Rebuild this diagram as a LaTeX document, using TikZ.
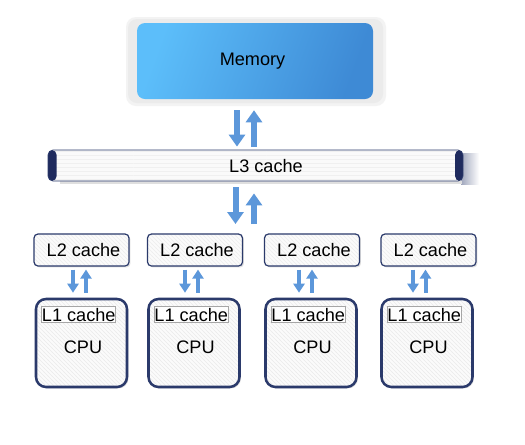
\documentclass[tikz,border=0pt]{standalone}
\usepackage{fontspec}
\setmainfont{Liberation Sans}
\usetikzlibrary{arrows.meta,patterns,shadows,calc}
\definecolor{navy}{HTML}{2B3A6B}
\definecolor{bandnavy}{HTML}{1F2B5E}
\definecolor{arrowblue}{HTML}{5C97DA}
\definecolor{memlight}{HTML}{5CBEFA}
\definecolor{memdark}{HTML}{3E8AD5}
\definecolor{halo}{HTML}{EBEBEB}
\tikzset{
  lbl/.style={font=\fontsize{13.6}{15}\selectfont, text=black},
  memorybox/.style={lbl, rounded corners=6pt, minimum width=177pt,
    minimum height=57pt, inner sep=0pt,
    left color=memlight, right color=memdark, shading angle=70},
  busbar/.style={draw=navy, line width=0.6pt, rounded corners=3.75pt,
    minimum width=311.25pt, minimum height=23.25pt, inner sep=0pt,
    preaction={fill=gray!4}, pattern=horizontal lines, pattern color=gray!12},
  l2box/.style={lbl, draw=navy, line width=0.9pt, rounded corners=3pt,
    minimum width=71.25pt, minimum height=24pt, inner sep=0pt,
    drop shadow={shadow xshift=1.1pt, shadow yshift=-1.1pt, opacity=0.25},
    preaction={fill=gray!3}, pattern=north west lines, pattern color=gray!14},
  cpubox/.style={draw=navy, line width=1.9pt, rounded corners=7.5pt,
    minimum width=68.25pt, minimum height=66pt, inner sep=0pt,
    drop shadow={shadow xshift=1.1pt, shadow yshift=-1.1pt, opacity=0.25},
    preaction={fill=gray!3}, pattern=north west lines, pattern color=gray!16},
  l1box/.style={lbl, draw=gray!70, line width=0.45pt, fill=white, fill opacity=0.85,
    text opacity=1, minimum width=55.5pt, minimum height=12pt, inner sep=0pt},
  bigarr/.style={arrowblue, line width=4.5pt,
    -{Triangle[width=12pt,length=9pt]}},
  smallarr/.style={arrowblue, line width=3pt,
    -{Triangle[width=8.25pt,length=6.75pt]}},
}
\begin{document}
\begin{tikzpicture}[x=0.75pt, y=-0.75pt]
\useasboundingbox[fill=white] (0,0) rectangle (525,444);

% main memory with its soft grey surround
\fill[halo!60, rounded corners=7.5pt] (126,17) rectangle (386,106);
\fill[halo, rounded corners=6.75pt] (128,19) rectangle (383,103);
\node[memorybox] (mem) at (255,61) {};
\node[lbl] (memtxt) at (252.5,61) {Memory};

% shared L3 cache bar with dark end caps and a soft shadow on the right
\shade[left color=navy!45!white, right color=white] (461,153) rectangle (479,184);
\fill[gray!25] (60,181) rectangle (462,184);
\node[busbar, path picture={
    \fill[bandnavy] (path picture bounding box.north west)
      rectangle ([xshift=6.5pt]path picture bounding box.south west);
    \fill[bandnavy] (path picture bounding box.north east)
      rectangle ([xshift=-6pt]path picture bounding box.south east);
  }] (l3) at (255.5,165.5) {};
\node[lbl] (l3txt) at (266,166) {L3 cache};

% memory <-> L3
\draw[bigarr] ($(mem.south)+(-18,11)$) -- ($(l3.north)+(-18.5,-3)$);
\draw[bigarr] ($(l3.north)+(-1.5,-3)$) -- ($(mem.south)+(-1,11)$);

% L3 <-> row of L2 caches
\coordinate (l2top) at (255,234);
\draw[bigarr] ($(l3.south)+(-20,6)$) -- ($(l2top)+(-19.5,-10)$);
\draw[bigarr] ($(l2top)+(-1,-10)$) -- ($(l3.south)+(-1.5,12)$);

% each core: L2 cache above, CPU with its L1 cache below
\foreach \i/\lx/\cx/\dd/\uu in {1/81.5/81.5/73/86, 2/195/194/185/198,
                                3/312/311/299/312, 4/428.5/427/413/425.5}{
  \node[l2box] (l2\i) at (\lx,250) {};
  \node[lbl] (l2txt\i) at (\lx+2,250.5) {L2 cache};
  \node[cpubox] (cpu\i) at (\cx,343) {};
  \node[l1box] (l1\i) at ($(cpu\i.north west)+(44,17)$) {};
  \node[lbl] (l1txt\i) at ($(cpu\i.north west)+(44,17)$) {L1 cache};
  \node[lbl] (cputxt\i) at ($(cpu\i.center)+(1.5,4)$) {CPU};
  \draw[smallarr] ($(l2\i.south)+(\dd-\lx,3)$) -- ($(cpu\i.north)+(\dd-\cx,-5)$);
  \draw[smallarr] ($(cpu\i.north)+(\uu-\cx,-5)$) -- ($(l2\i.south)+(\uu-\lx,3)$);
}
\end{tikzpicture}
\end{document}
